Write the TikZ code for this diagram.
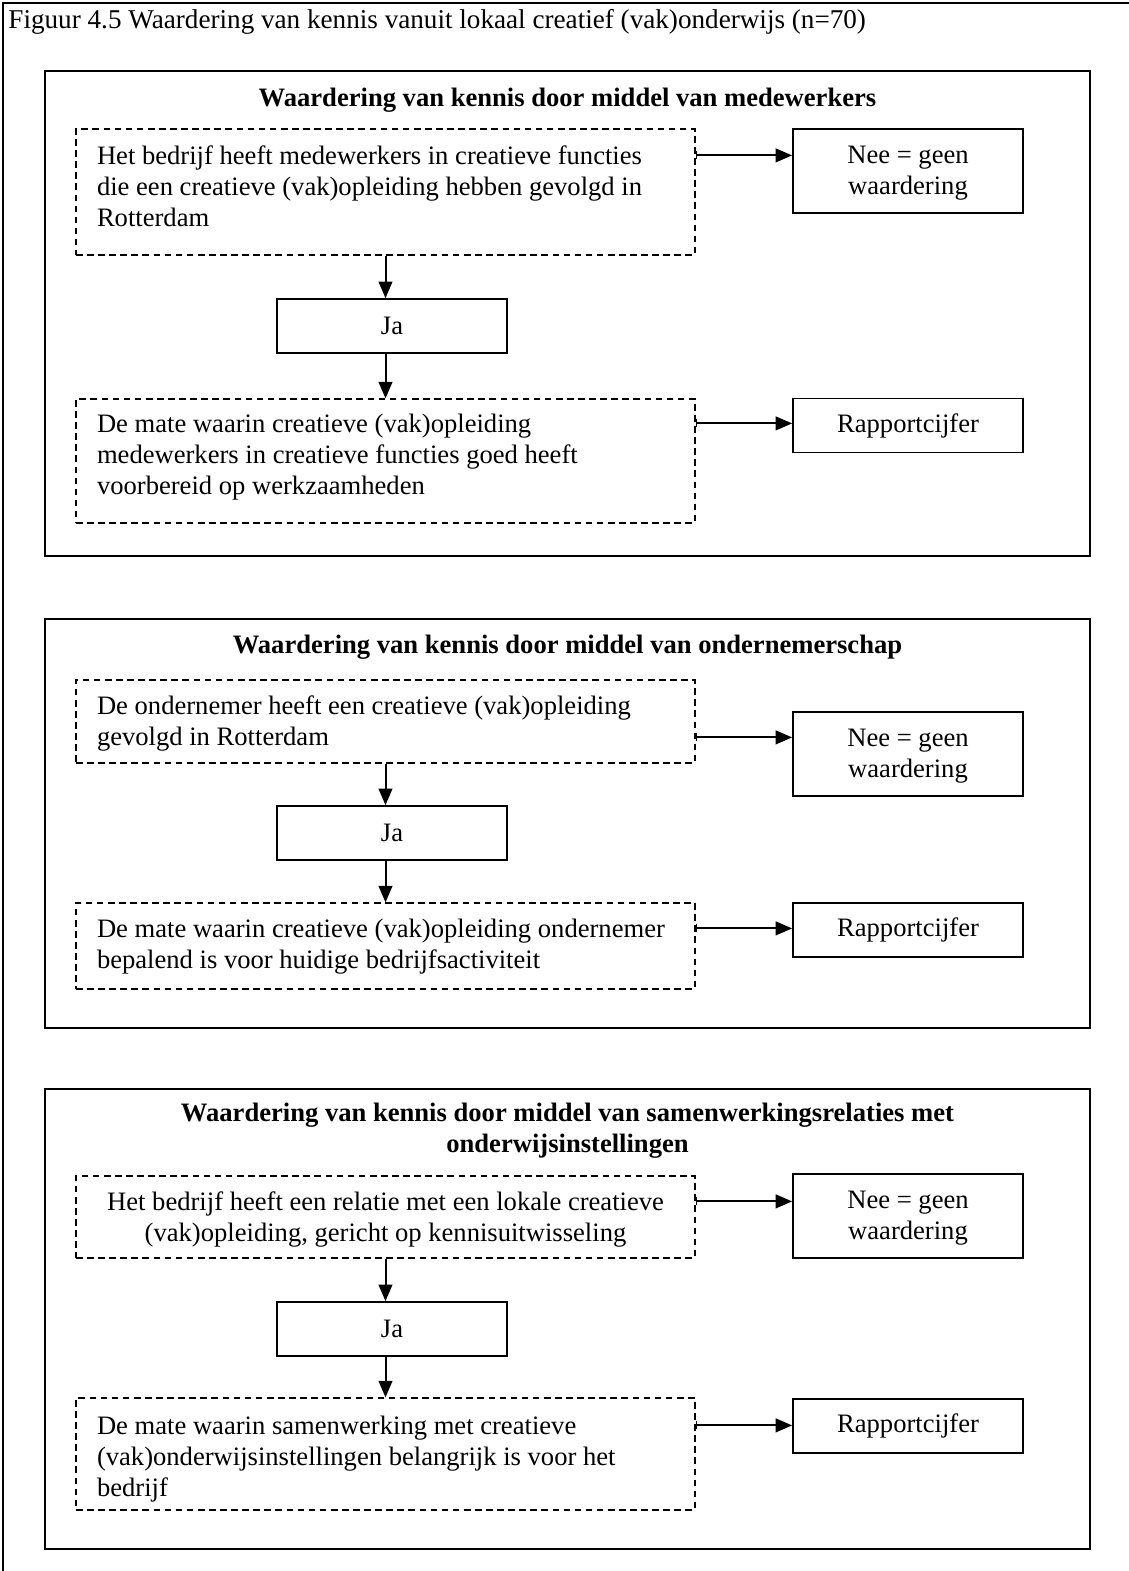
\documentclass[tikz,border=0pt]{standalone}
\usepackage{fontspec}
\setmainfont{Liberation Serif}
\usetikzlibrary{arrows.meta,calc}
% struts that hang the text from the top of its box
\newcommand\topstrut[1]{\rule{0pt}{#1}}
\newcommand\botstrut[1]{\rule[-#1]{0pt}{0pt}}

\begin{document}
\begin{tikzpicture}[x=0.4512pt,y=-0.4512pt,
  font=\fontsize{12}{14}\selectfont,
  sz/.style 2 args={minimum width=#1*0.4512pt,minimum height=#2*0.4512pt},
  panel/.style={draw,line width=0.8pt},
  dbox/.style={draw,dash pattern=on 3pt off 2pt,line width=0.55pt,inner ysep=0pt,
               inner xsep=21*0.4512pt,text width=577*0.4512pt},
  sbox/.style={draw,line width=0.75pt,inner sep=0pt,align=center,sz={230}{54}},
  nbox/.style={sbox,sz={230}{84}},
  head/.style={font=\fontsize{12}{14}\selectfont\bfseries,align=center,inner sep=0pt},
  arr/.style={line width=0.9pt,-{Triangle[length=7.5pt,width=6.2pt]}},
  harr/.style={line width=0.9pt,{Bar[width=3.6pt,line width=0.6pt]}-{Triangle[length=7.5pt,width=6.2pt]}},
  ]
\useasboundingbox (0,0) rectangle (1129,1571);

% outer frame and caption
\draw[line width=0.9pt] (3,1571) -- (3,3) -- (1129,3);
\node[anchor=west,inner sep=0pt,font=\fontsize{12.25}{14}\selectfont] (cap) at (8,22)
  {Figuur 4.5 Waardering van kennis vanuit lokaal creatief (vak)onderwijs (n=70)};

% ---------- panel 1: medewerkers ----------
\draw[panel] (45,71) rectangle (1090,556);
\node[head] (h1) at (567.5,100) {Waardering van kennis door middel van medewerkers};
\node[dbox,align=flush left,sz={619}{126}] (a1) at (385.5,192)
  {\topstrut{16.15pt}Het bedrijf heeft medewerkers in creatieve functies\\
   die een creatieve (vak)opleiding hebben gevolgd in\\
   Rotterdam\botstrut{12.7pt}};
\node[nbox] (n1) at (908,171) {\topstrut{15.7pt}Nee = geen\\waardering\botstrut{8.2pt}};
\node[sbox] (j1) at (392,326) {Ja};
\node[dbox,align=flush left,sz={619}{124}] (b1) at (385.5,461)
  {\topstrut{15.25pt}De mate waarin creatieve (vak)opleiding\\
   medewerkers in creatieve functies goed heeft\\
   voorbereid op werkzaamheden\botstrut{12.7pt}};
\node[sbox] (r1) at (908,425.5) {Rapportcijfer};

\coordinate (a1o) at ($(a1.north east)+(0,27)$);
\draw[harr] (a1o) -- (a1o -| n1.west);
\draw[arr] (a1.south) -- (a1.south |- j1.north);
\draw[arr] (j1.south -| a1.south) -- (b1.north);
\coordinate (b1o) at ($(b1.north east)+(0,25)$);
\draw[harr] (b1o) -- (b1o -| r1.west);

% ---------- panel 2: ondernemerschap ----------
\draw[panel] (45,619) rectangle (1090,1028);
\node[head] (h2) at (567.5,647) {Waardering van kennis door middel van ondernemerschap};
\node[dbox,align=flush left,sz={619}{83}] (a2) at (385.5,721.5)
  {\topstrut{15.7pt}De ondernemer heeft een creatieve (vak)opleiding\\
   gevolgd in Rotterdam\botstrut{7.75pt}};
\node[nbox] (n2) at (908,754) {\topstrut{15.7pt}Nee = geen\\waardering\botstrut{8.2pt}};
\node[sbox] (j2) at (392,833) {Ja};
\node[dbox,align=flush left,sz={619}{86}] (b2) at (385.5,946)
  {\topstrut{15.7pt}De mate waarin creatieve (vak)opleiding ondernemer\\
   bepalend is voor huidige bedrijfsactiviteit\botstrut{9.1pt}};
\node[sbox] (r2) at (908,930) {Rapportcijfer};

\coordinate (a2o) at ($(a2.north east)+(0,58)$);
\draw[harr] (a2o) -- (a2o -| n2.west);
\draw[arr] (a2.south) -- (a2.south |- j2.north);
\draw[arr] (j2.south -| a2.south) -- (b2.north);
\coordinate (b2o) at ($(b2.north east)+(0,26)$);
\draw[harr] (b2o) -- (b2o -| r2.west);

% ---------- panel 3: samenwerkingsrelaties ----------
\draw[panel] (45,1089) rectangle (1090,1549);
\node[head] (h3) at (567.5,1130.5)
  {Waardering van kennis door middel van samenwerkingsrelaties met\\
   onderwijsinstellingen};
\node[dbox,align=flush center,sz={619}{82}] (a3) at (385.5,1217)
  {\topstrut{15.7pt}Het bedrijf heeft een relatie met een lokale creatieve\\
   (vak)opleiding, gericht op kennisuitwisseling\botstrut{7.3pt}};
\node[nbox] (n3) at (908,1216) {\topstrut{15.7pt}Nee = geen\\waardering\botstrut{8.2pt}};
\node[sbox] (j3) at (392,1329) {Ja};
\node[dbox,align=flush left,sz={619}{112}] (b3) at (385.5,1454)
  {\topstrut{16.6pt}De mate waarin samenwerking met creatieve\\
   (vak)onderwijsinstellingen belangrijk is voor het\\
   bedrijf\botstrut{5.93pt}};
\node[sbox] (r3) at (908,1426) {Rapportcijfer};

\coordinate (a3o) at ($(a3.north east)+(0,26)$);
\draw[harr] (a3o) -- (a3o -| n3.west);
\draw[arr] (a3.south) -- (a3.south |- j3.north);
\draw[arr] (j3.south -| a3.south) -- (b3.north);
\coordinate (b3o) at ($(b3.north east)+(0,28)$);
\draw[harr] (b3o) -- (b3o -| r3.west);
\end{tikzpicture}
\end{document}
